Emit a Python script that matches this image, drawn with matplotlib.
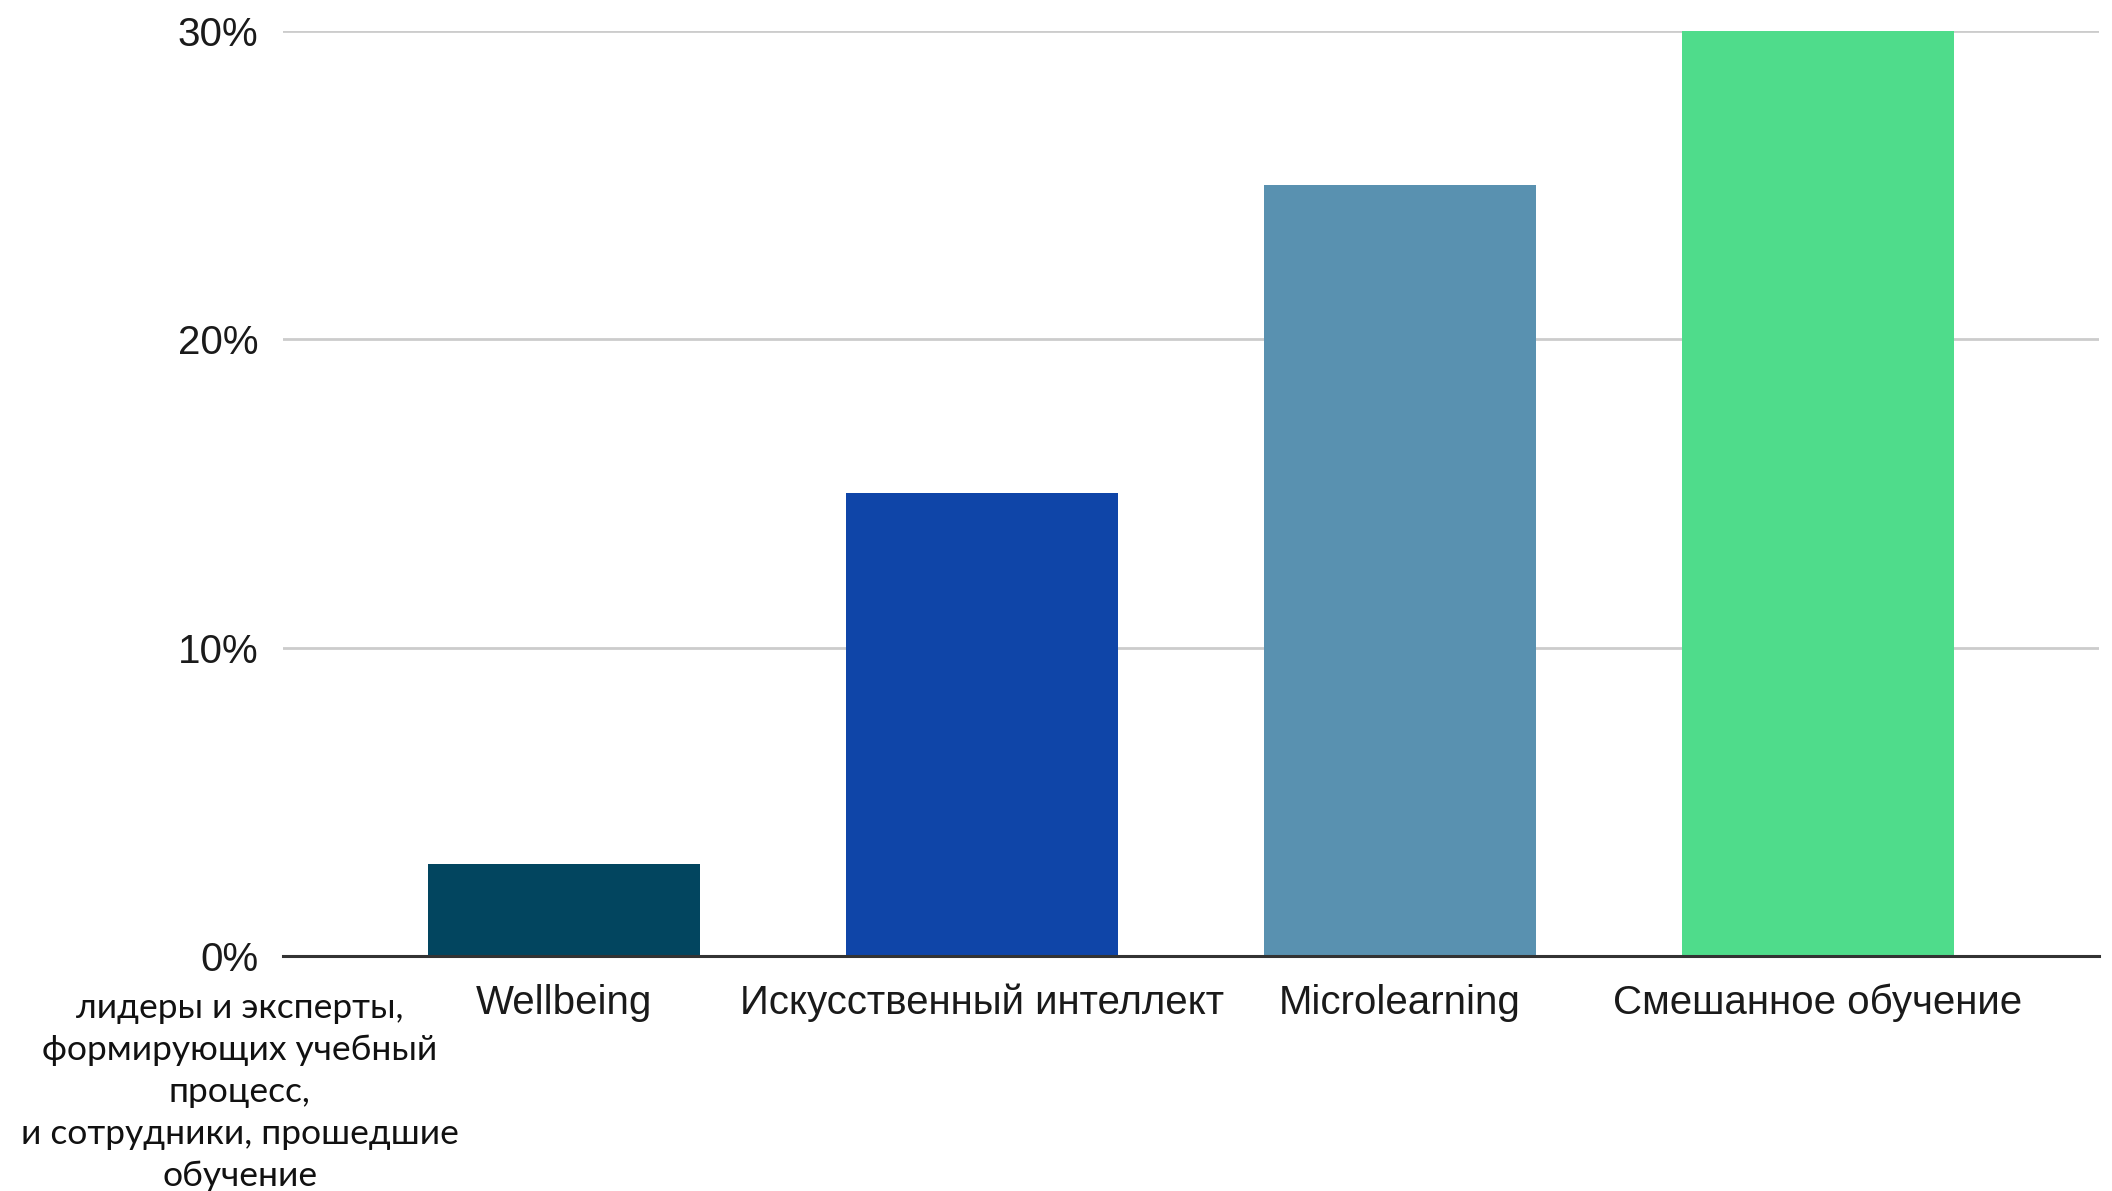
import matplotlib.pyplot as plt
from matplotlib.ticker import FuncFormatter

# =====================================================
# DATA
# =====================================================

categories = [
    "Wellbeing",
    "Искусственный интеллект",
    "Microlearning",
    "Смешанное обучение",
]
values = [3, 15, 25, 30]
colors = ["#02455f", "#0f45a8", "#5991b0", "#4fdc8b"]

y_ticks = [0, 10, 20, 30]

side_note = (
    "лидеры и эксперты,\n"
    "формирующих учебный\n"
    "процесс,\n"
    "и сотрудники, прошедшие\n"
    "обучение"
)

# =====================================================
# PLOT
# =====================================================

plt.rcParams["font.family"] = ["Liberation Sans", "DejaVu Sans"]

fig = plt.figure(figsize=(21.12, 11.91), dpi=100)
ax = fig.add_axes([0.134, 0.1973, 0.8598, 0.7767])

x = list(range(len(categories)))

ax.bar(
    x,
    values,
    width=0.65,
    color=colors,
    zorder=3
)

ax.set_xlim(-0.672, len(categories) - 1 + 0.672)
ax.set_ylim(0, 30)

ax.set_xticks(x)
ax.set_xticklabels(categories)
ax.set_yticks(y_ticks)
ax.yaxis.set_major_formatter(FuncFormatter(lambda v, p: f"{v:.0f}%"))

ax.tick_params(axis="x", length=0, pad=20, labelsize=29, labelcolor="#1a1a1a")
ax.tick_params(axis="y", length=0, pad=18, labelsize=29, labelcolor="#1a1a1a")

ax.grid(axis="y", color="#cccccc", linewidth=2, zorder=0)

for side in ["top", "right", "left"]:
    ax.spines[side].set_visible(False)
ax.spines["bottom"].set_color("#333333")
ax.spines["bottom"].set_linewidth(2.2)
ax.spines["bottom"].set_zorder(4)

fig.text(
    0.1136,
    0.167,
    side_note,
    ha="center",
    va="top",
    fontsize=25.5,
    family=["Lato", "DejaVu Sans"],
    color="#111111",
    linespacing=1.38
)

fig.savefig("out.png", dpi=100, facecolor="white")
